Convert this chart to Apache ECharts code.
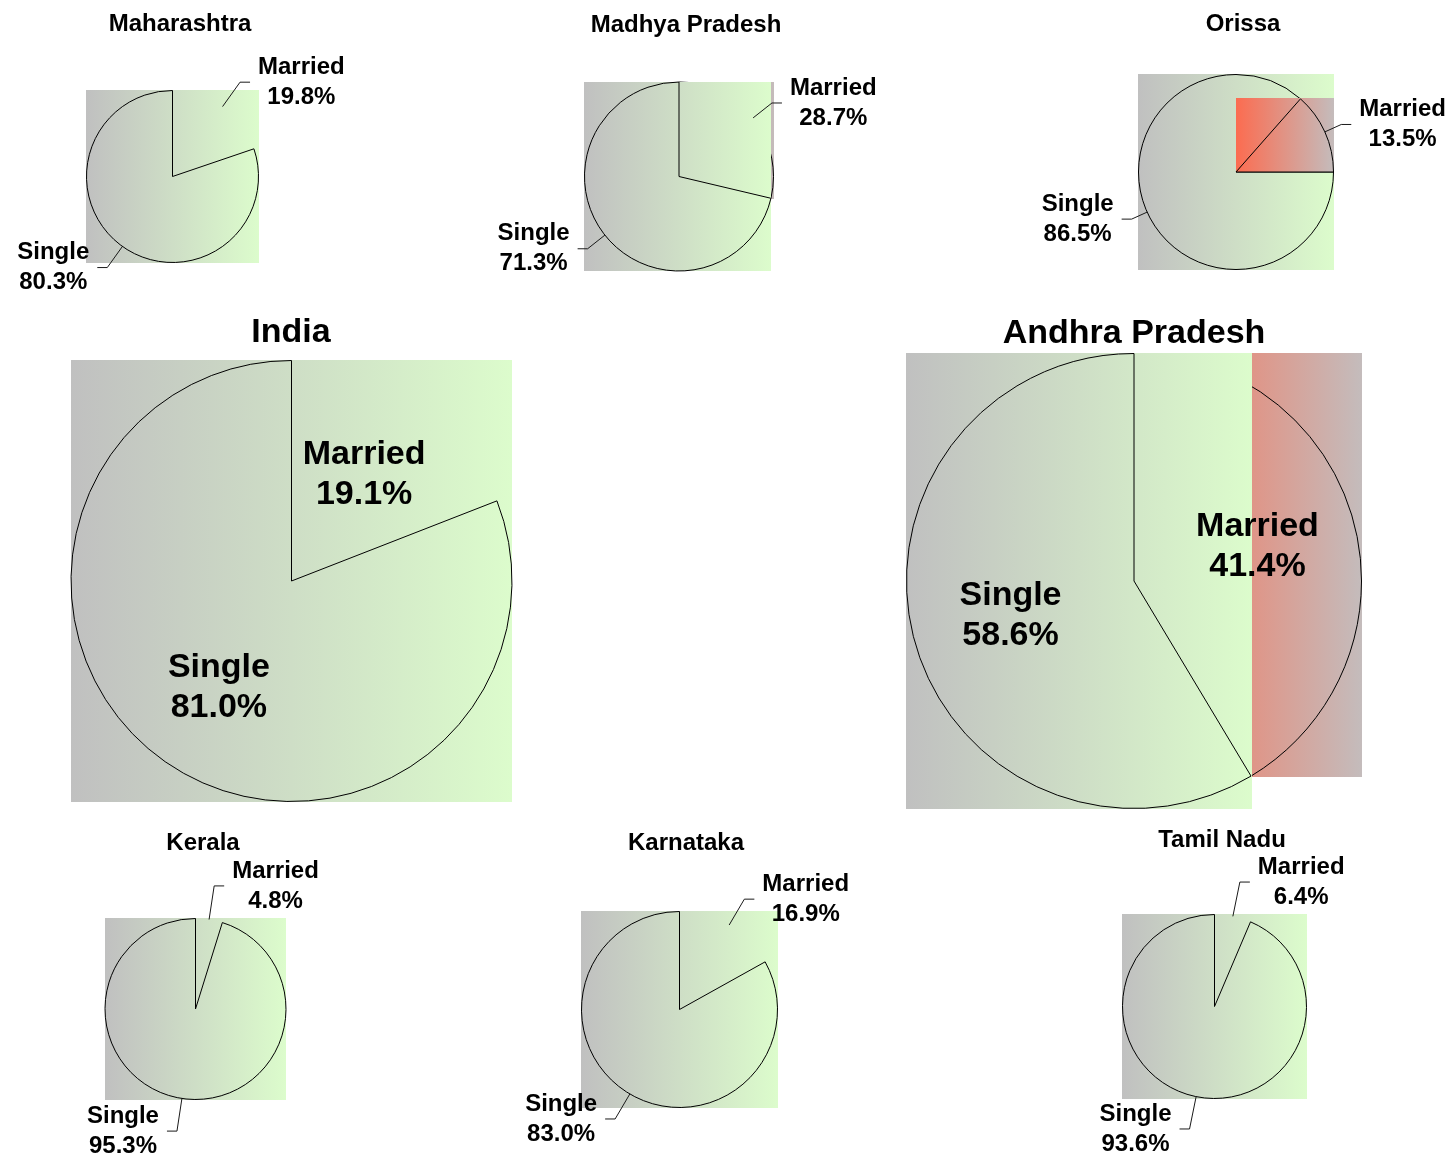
<!DOCTYPE html>
<html>
<head>
<meta charset="utf-8">
<title>Married vs Single by State</title>
<script src="https://cdn.jsdelivr.net/npm/echarts@6/dist/echarts.min.js"></script>
<style>
  html, body { margin: 0; padding: 0; background: #ffffff; }
  #chart { width: 1453px; height: 1155px; }
</style>
</head>
<body>
<div id="chart"></div>
<script>
// ---- data ----
const regions = ['Maharashtra', 'Madhya Pradesh', 'Orissa', 'India', 'Andhra Pradesh', 'Kerala', 'Karnataka', 'Tamil Nadu'];
const statusNames = ['Married', 'Single'];
const marriedShare = [19.8, 28.7, 13.5, 19.1, 41.4, 4.8, 16.9, 6.4];
const singleShare = [80.3, 71.3, 86.5, 81.0, 58.6, 95.3, 83.0, 93.6];

// ---- layout of each panel: pie centre/radius, title anchor, slice order, leader lengths ----
const panels = [
  { cx: 172.5, cy: 176.5, r: 86,    tx: 180,  ty: 24,  order: ['Married', 'Single'], start: 90, lead: { Married: 30, Single: 26 } },
  { cx: 679,   cy: 176.5, r: 94.5,  tx: 686,  ty: 25,  order: ['Married', 'Single'], start: 90, lead: { Married: 24, Single: 22 } },
  { cx: 1236,  cy: 172,   r: 97.5,  tx: 1243, ty: 24,  order: ['Single', 'Married'], start: 0,  lead: { Married: 18, Single: 17 } },
  { cx: 291.5, cy: 581,   r: 220.5, tx: 291,  ty: 333, order: ['Married', 'Single'], start: 90, inner: 1.14 },
  { cx: 1134,  cy: 581,   r: 227.5, tx: 1134, ty: 334, order: ['Married', 'Single'], start: 90, inner: 1.1 },
  { cx: 195.5, cy: 1009,  r: 90.5,  tx: 203,  ty: 843, order: ['Married', 'Single'], start: 90, lead: { Married: 34, Single: 33 } },
  { cx: 679.5, cy: 1009.5, r: 98,   tx: 686,  ty: 843, order: ['Married', 'Single'], start: 90, lead: { Married: 30, Single: 29 } },
  { cx: 1214.5, cy: 1006.5, r: 92,  tx: 1222, ty: 840, order: ['Married', 'Single'], start: 90, lead: { Married: 35, Single: 33 } }
];

const FONT = "'Liberation Sans', Arial, Helvetica, sans-serif";
const SMALL = 24, BIG = 34;

// Horizontal gradient fills for each status
const fills = {
  Married: ['#fc6c50', '#c4bcbc'],
  Single: ['#c0c0c0', '#dcfccc']
};

function shareOf(i, name) {
  return name === 'Married' ? marriedShare[i] : singleShare[i];
}

function labelText(p) {
  return '{n|' + p.name + '}\n{n|' + p.value.toFixed(1) + '%}';
}

function richFor(size, lh) {
  return { n: { fontFamily: FONT, fontWeight: 'bold', fontSize: size, lineHeight: lh, color: '#000', align: 'center' } };
}

const chart = echarts.init(document.getElementById('chart'), null, { renderer: 'canvas' });

const titles = [];
const series = [];
const layerIndex = []; // [panel][layer] -> series index

panels.forEach((p, i) => {
  const big = !!p.inner;
  titles.push({
    text: regions[i],
    left: p.tx,
    top: p.ty,
    textAlign: 'center',
    textVerticalAlign: 'middle',
    padding: 0,
    textStyle: { fontFamily: FONT, fontWeight: 'bold', fontSize: big ? BIG : SMALL, color: '#000' }
  });

  layerIndex[i] = [];
  // two outline layers: each draws one slice's border, so a later fill can cover an earlier outline
  [0, 1].forEach(layer => {
    const withLabels = layer === 1 && !!p.lead;
    layerIndex[i][layer] = series.length;
    series.push({
      type: 'pie',
      z: layer === 0 ? 2 : 4,
      center: [p.cx, p.cy],
      radius: p.r,
      startAngle: p.start,
      clockwise: true,
      animation: false,
      silent: true,
      avoidLabelOverlap: false,
      emphasis: { disabled: true },
      data: p.order.map((name, k) => ({
        name: name,
        value: shareOf(i, name),
        itemStyle: k === layer
          ? { color: 'rgba(0,0,0,0)', borderColor: '#000', borderWidth: 1 }
          : { color: 'rgba(0,0,0,0)', borderWidth: 0 },
        labelLine: p.lead ? { length: p.lead[name], length2: 10 } : undefined
      })),
      label: withLabels
        ? { show: true, position: 'outside', distanceToLabelLine: 8, formatter: labelText, rich: richFor(SMALL, 30) }
        : { show: false },
      labelLine: { show: withLabels, lineStyle: { color: '#1a1a1a', width: 1 } }
    });
  });

  if (big) {
    // label carrier for the large pies: labels sit inside the slices
    series.push({
      type: 'pie',
      z: 6,
      center: [p.cx, p.cy],
      radius: p.r * p.inner,
      startAngle: p.start,
      clockwise: true,
      animation: false,
      silent: true,
      emphasis: { disabled: true },
      data: p.order.map(name => ({ name: name, value: shareOf(i, name) })),
      itemStyle: { color: 'rgba(0,0,0,0)', borderWidth: 0 },
      label: { show: true, position: 'inside', formatter: labelText, rich: richFor(BIG, 40) },
      labelLine: { show: false }
    });
  }
});

chart.setOption({
  backgroundColor: '#ffffff',
  animation: false,
  title: titles,
  series: series
});

// Fill each slice's bounding box with its gradient, layered under that slice's outline
function sliceBox(l) {
  let x0 = l.cx, x1 = l.cx, y0 = l.cy, y1 = l.cy;
  const n = 1440;
  for (let s = 0; s <= n; s++) {
    const a = l.startAngle + (l.endAngle - l.startAngle) * s / n;
    const x = l.cx + l.r * Math.cos(a);
    const y = l.cy + l.r * Math.sin(a);
    if (x < x0) x0 = x; if (x > x1) x1 = x;
    if (y < y0) y0 = y; if (y > y1) y1 = y;
  }
  // snap to whole pixels so stacked boxes share crisp edges
  x0 = Math.floor(x0); y0 = Math.floor(y0);
  x1 = Math.ceil(x1); y1 = Math.ceil(y1);
  return { x: x0, y: y0, width: x1 - x0, height: y1 - y0 };
}

const model = chart.getModel();
const rects = [];
panels.forEach((p, i) => {
  [0, 1].forEach(layer => {
    const data = model.getSeriesByIndex(layerIndex[i][layer]).getData();
    const name = p.order[layer];
    const box = sliceBox(data.getItemLayout(layer));
    const c = fills[name];
    rects.push({
      type: 'rect',
      z: layer === 0 ? 1 : 3,
      silent: true,
      shape: box,
      style: {
        fill: new echarts.graphic.LinearGradient(0, 0, 1, 0, [
          { offset: 0, color: c[0] },
          { offset: 1, color: c[1] }
        ])
      }
    });
  });
});

chart.setOption({ graphic: { elements: rects } });
</script>
</body>
</html>
